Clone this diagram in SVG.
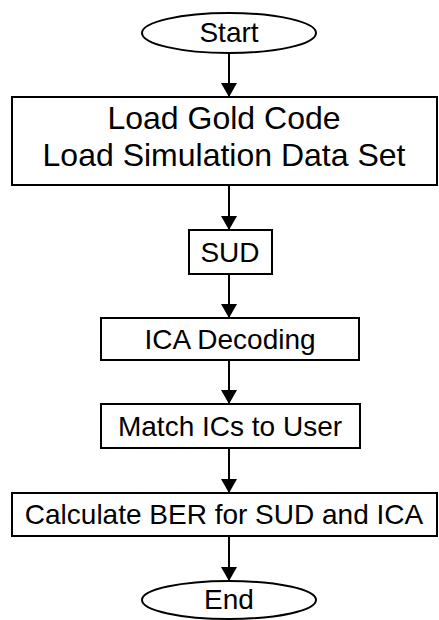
<svg xmlns="http://www.w3.org/2000/svg" width="439" height="620" viewBox="0 0 439 620">
  <style>
    .shape { fill: #ffffff; stroke: #000000; stroke-width: 2; }
    .label { font-family: "Liberation Sans", Arial, sans-serif; font-size: 28px; fill: #000000; text-anchor: middle; }
    .big { font-size: 32px; }
    .flow { stroke: #000000; stroke-width: 2; fill: none; marker-end: url(#arrow); }
  </style>
  <defs>
    <marker id="arrow" viewBox="0 0 14 16" refX="14" refY="8" markerWidth="14" markerHeight="16" markerUnits="userSpaceOnUse" orient="auto">
      <path d="M0,0 L14,8 L0,16 Z" fill="#000000"/>
    </marker>
  </defs>
  <rect width="439" height="620" fill="#ffffff"/>

  <g id="connectors">
    <line class="flow" x1="229" y1="53" x2="229" y2="97"/>
    <line class="flow" x1="229" y1="185" x2="229" y2="230"/>
    <line class="flow" x1="229" y1="274" x2="229" y2="318"/>
    <line class="flow" x1="229" y1="360" x2="229" y2="404"/>
    <line class="flow" x1="229" y1="448" x2="229" y2="493"/>
    <line class="flow" x1="229" y1="536" x2="229" y2="581"/>
  </g>

  <g id="start">
    <ellipse class="shape" cx="229" cy="33" rx="87" ry="20"/>
    <text class="label" x="229" y="42">Start</text>
  </g>

  <g id="load">
    <rect class="shape" x="12" y="97" width="425" height="88"/>
    <text class="label big" x="224" y="129">Load Gold Code</text>
    <text class="label big" x="224" y="166">Load Simulation Data Set</text>
  </g>

  <g id="sud">
    <rect class="shape" x="189" y="230" width="83" height="44"/>
    <text class="label" x="230" y="262">SUD</text>
  </g>

  <g id="ica">
    <rect class="shape" x="101" y="318" width="258" height="42"/>
    <text class="label" x="230" y="349">ICA Decoding</text>
  </g>

  <g id="match">
    <rect class="shape" x="101" y="404" width="259" height="44"/>
    <text class="label" x="230" y="436">Match ICs to User</text>
  </g>

  <g id="ber">
    <rect class="shape" x="12" y="493" width="425" height="43"/>
    <text class="label" x="224" y="524">Calculate BER for SUD and ICA</text>
  </g>

  <g id="end">
    <ellipse class="shape" cx="229" cy="600" rx="87" ry="19"/>
    <text class="label" x="229" y="609">End</text>
  </g>
</svg>
